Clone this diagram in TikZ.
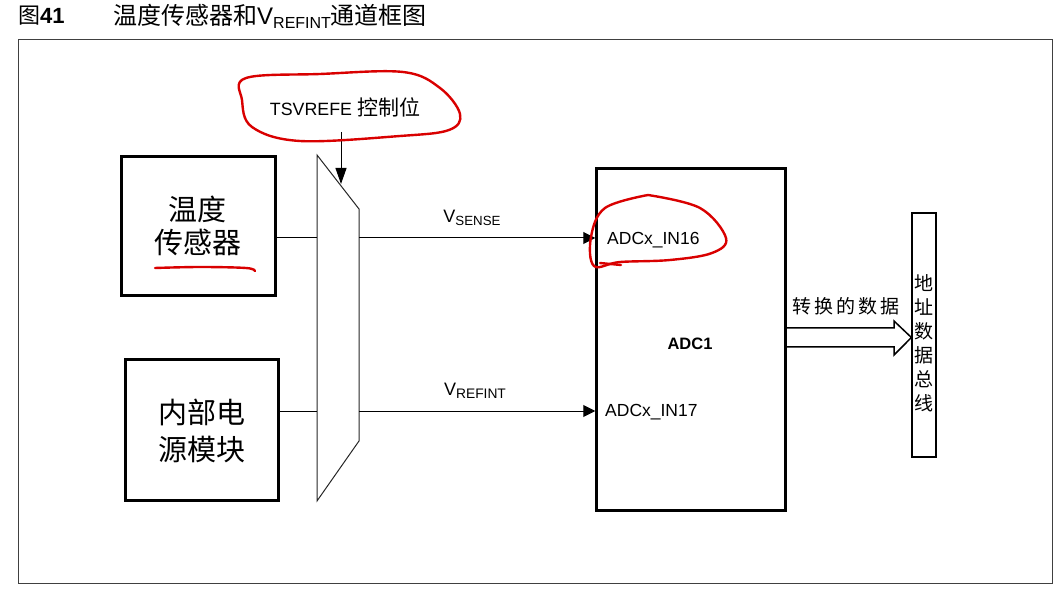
\documentclass[tikz,border=0pt]{standalone}
\usepackage{fontspec}
\setmainfont{Liberation Sans}
\newfontfamily\cjk{Noto Sans CJK SC}
\usetikzlibrary{arrows.meta}
\tikzset{
  srcbox/.style={draw, line width=2.8pt, inner sep=0pt},
  thinline/.style={line width=1pt},
  arr/.style={line width=1pt, -{Triangle[length=12pt,width=12pt]}},
  redmark/.style={draw=red!85!black, line width=2.4pt, line cap=round, line join=round},
  lbl/.style={inner sep=0pt}
}
\begin{document}
\begin{tikzpicture}[x=1pt,y=-1pt]
\useasboundingbox (0,0) rectangle (1060,593);
% outer frame
\draw[line width=1pt, black!75] (18,40) rectangle (1052,583);
% title
\node[lbl, anchor=west] (fignum) at (18,16) {\fontsize{22}{24}\selectfont\cjk 图\normalfont\bfseries 41};
\node[lbl, anchor=west] (title) at (113,16) {\fontsize{24}{26}\selectfont{\cjk 温度传感器和}V\raisebox{-4pt}{\fontsize{16}{16}\selectfont REFINT}{\cjk 通道框图}};
% source boxes
\node[srcbox, minimum width=154pt, minimum height=139pt] (ts) at (198.5,226) {};
\node[lbl, align=center, font=\cjk\fontsize{29}{33}\selectfont] (tstxt) at (197.5,226) {温度\\传感器};
\node[srcbox, minimum width=153pt, minimum height=141pt] (pw) at (202,430) {};
\node[lbl, align=center, font=\cjk\fontsize{29}{37}\selectfont] (pwtxt) at (202,431) {内部电\\源模块};
% mux
\coordinate (m1) at (317,155);
\coordinate (m2) at (359,209);
\coordinate (m3) at (359,441);
\coordinate (m4) at (317,501);
\draw[thinline, black!85] (m1) -- (m2) -- (m3) -- (m4) -- cycle;
\coordinate (mxL1) at (317,238);
\coordinate (mxR1) at (359,238);
\coordinate (mxL2) at (317,411);
\coordinate (mxR2) at (359,411);
% control
\node[lbl] (ctl) at (345,107) {\fontsize{17.8}{20}\selectfont TSVREFE {\cjk\fontsize{21}{22}\selectfont 控制位}};
\coordinate (c1) at (341,132);
\coordinate (c2) at (341,184);
\draw[line width=1pt, -{Triangle[length=16pt,width=11pt]}] (c1) -- (c2);
% ADC
\node[draw, line width=2.5pt, minimum width=189pt, minimum height=342pt, inner sep=0pt] (adc) at (691,339.5) {};
\node[lbl, anchor=west] (in16) at (607,240) {\fontsize{17.5}{20}\selectfont ADCx\_IN16};
\node[lbl] (adc1) at (690,344) {\fontsize{16.5}{20}\selectfont\bfseries ADC1};
\node[lbl, anchor=west] (in17) at (605,412) {\fontsize{17.5}{20}\selectfont ADCx\_IN17};
% connectors
\draw[thinline] (ts.east |- mxL1) -- (mxL1);
\draw[arr] (mxR1) -- (adc.west |- mxR1);
\draw[thinline] (pw.east |- mxL2) -- (mxL2);
\draw[arr] (mxR2) -- (adc.west |- mxR2);
\node[lbl] (vs) at (472,218) {\fontsize{18}{20}\selectfont V\raisebox{-3.5pt}{\fontsize{13.3}{14}\selectfont SENSE}};
\node[lbl] (vr) at (475,391) {\fontsize{18}{20}\selectfont V\raisebox{-3.5pt}{\fontsize{13.8}{14}\selectfont REFINT}};
% bus
\node[draw, line width=1.2pt, minimum width=24pt, minimum height=244pt, inner sep=0pt] (bus) at (924,335) {};
\node[lbl, align=center, font=\cjk\fontsize{19}{24}\selectfont] (bustxt) at (924,343) {地\\址\\数\\据\\总\\线};
% hollow arrow
\coordinate (h0) at (786,328);
\draw[line width=1.5pt, line join=miter] (h0) -- (894,328) -- (894,321) -- (bus.west |- 0,337.5) -- (894,355) -- (894,347) -- (786,347);
\node[lbl, font=\cjk\fontsize{19}{20}\selectfont] (conv) at (846,306) {转\hspace{3pt}换\hspace{3pt}的\hspace{3pt}数\hspace{3pt}据};
% red hand-drawn marks
\draw[redmark] plot[smooth cycle, tension=0.6] coordinates {(246,78) (320,74) (403,72) (440,88) (460,114) (449,130) (400,136) (300,141) (252,127) (242,100)};
\draw[redmark] plot[smooth, tension=0.6] coordinates {(155,268) (200,267) (246,268) (255,271)};
\draw[redmark] plot[smooth, tension=0.6] coordinates {(648,195) (700,208) (726,238) (712,253) (670,260) (620,262) (594,266) (591,237) (605,208) (648,195)};
\draw[redmark] (600,263) -- (621,265);
\end{tikzpicture}
\end{document}
